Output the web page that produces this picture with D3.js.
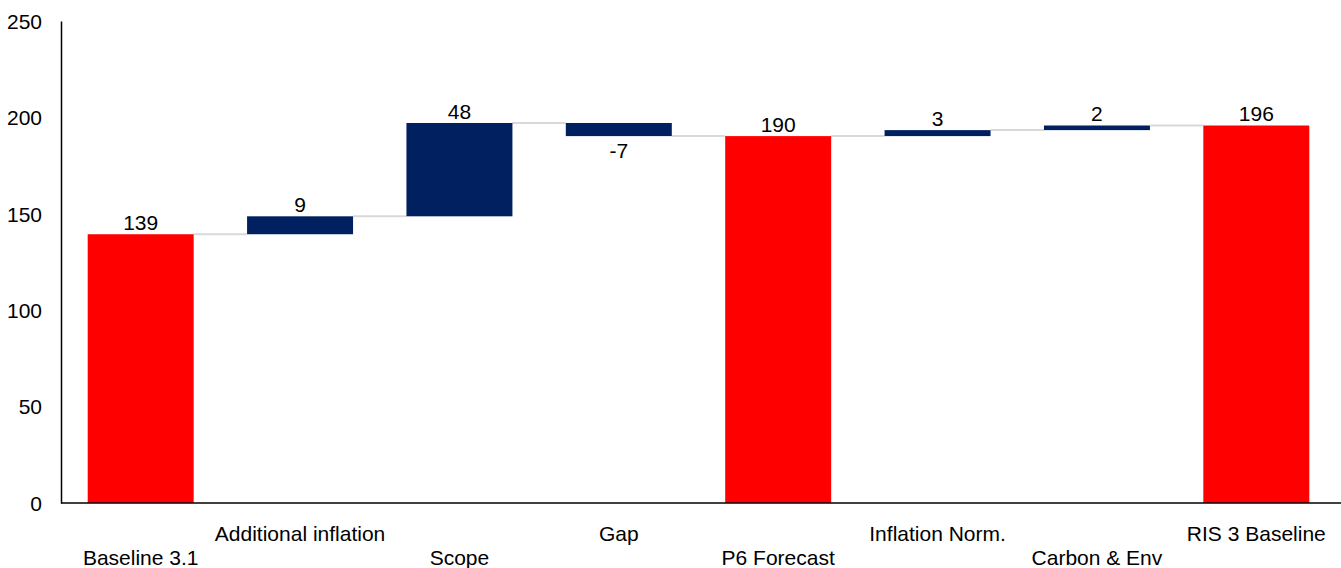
<!DOCTYPE html>
<html>
<head>
<meta charset="utf-8">
<script src="https://cdn.jsdelivr.net/npm/d3@7"></script>
<style>
  html, body { margin: 0; padding: 0; background: #fff; }
  svg text { font-family: "Liberation Sans", Arial, sans-serif; fill: #000; }
</style>
</head>
<body>
<svg id="chart" width="1341" height="568"></svg>
<script>
// Cost bridge data: totals are absolute, steps are changes from the running total
const categories = ["Baseline 3.1", "Additional inflation", "Scope", "Gap", "P6 Forecast", "Inflation Norm.", "Carbon & Env", "RIS 3 Baseline"];
const values     = [139.4, 9.3, 48.4, -6.8, 190.3, 3.1, 2.4, 195.8];
const isTotal    = [true, false, false, false, true, false, false, true];
const yTicks     = [0, 50, 100, 150, 200, 250];

const svg = d3.select("#chart");
const W = 1341, H = 568;
const margin = { left: 61, right: 4, top: 21, bottom: 65 };
const y0 = H - margin.bottom; // 503
const FONT = "21px";

// Build bar extents from the running total
let running = 0;
const bars = categories.map((c, i) => {
  let start, end;
  if (isTotal[i]) { start = 0; end = values[i]; running = values[i]; }
  else { start = running; end = running + values[i]; running = end; }
  return { cat: c, i, value: values[i], start, end, total: isTotal[i] };
});

const x = d3.scaleBand()
  .domain(categories)
  .range([margin.left, 1336])
  .paddingInner(0.335)
  .paddingOuter(0.1675);

const y = d3.scaleLinear()
  .domain([0, 250])
  .range([y0, margin.top]);

// Connector lines between consecutive bars at the running level
const g = svg.append("g");
g.selectAll("line.conn")
  .data(bars.slice(0, -1))
  .join("line")
  .attr("class", "conn")
  .attr("x1", d => x(d.cat) + x.bandwidth())
  .attr("x2", d => x(categories[d.i + 1]))
  .attr("y1", d => y(d.end))
  .attr("y2", d => y(d.end))
  .attr("stroke", "#d9d9d9")
  .attr("stroke-width", 2);

// Bars
g.selectAll("rect.bar")
  .data(bars)
  .join("rect")
  .attr("class", "bar")
  .attr("x", d => x(d.cat))
  .attr("width", x.bandwidth())
  .attr("y", d => y(Math.max(d.start, d.end)))
  .attr("height", d => Math.abs(y(d.start) - y(d.end)))
  .attr("fill", d => d.total ? "#ff0000" : "#002060");

// Value labels: above for increases/totals, below for decreases
const fmt = d3.formatLocale({ decimal: ".", thousands: ",", grouping: [3], currency: ["", ""], minus: "-" }).format(".0f");
g.selectAll("text.val")
  .data(bars)
  .join("text")
  .attr("class", "val")
  .attr("x", d => x(d.cat) + x.bandwidth() / 2)
  .attr("y", d => d.value < 0 ? y(Math.min(d.start, d.end)) + 22 : y(Math.max(d.start, d.end)) - 4)
  .attr("text-anchor", "middle")
  .style("font-size", FONT)
  .text(d => fmt(d.value));

// Y axis
const yAxis = d3.axisLeft(y).tickValues(yTicks).tickSize(0).tickPadding(19);
const ya = svg.append("g")
  .attr("transform", `translate(${margin.left},0)`)
  .call(yAxis);
ya.select(".domain").attr("stroke", "#000").attr("stroke-width", 1.5);
ya.selectAll("text").style("font-size", FONT).attr("fill", "#000").attr("dy", "0.35em");

// X axis baseline across the full width
svg.append("line")
  .attr("x1", margin.left).attr("x2", W)
  .attr("y1", y0).attr("y2", y0)
  .attr("stroke", "#000").attr("stroke-width", 1.5);

// Category labels, staggered on two rows
const xAxis = d3.axisBottom(x).tickSize(0).tickPadding(0);
const xa = svg.append("g")
  .attr("transform", `translate(0,${y0})`)
  .call(xAxis);
xa.select(".domain").remove();
xa.selectAll("text")
  .style("font-size", FONT)
  .attr("fill", "#000")
  .attr("dy", 0)
  .attr("y", (d, i) => i % 2 === 1 ? 38 : 62);
</script>
</body>
</html>
